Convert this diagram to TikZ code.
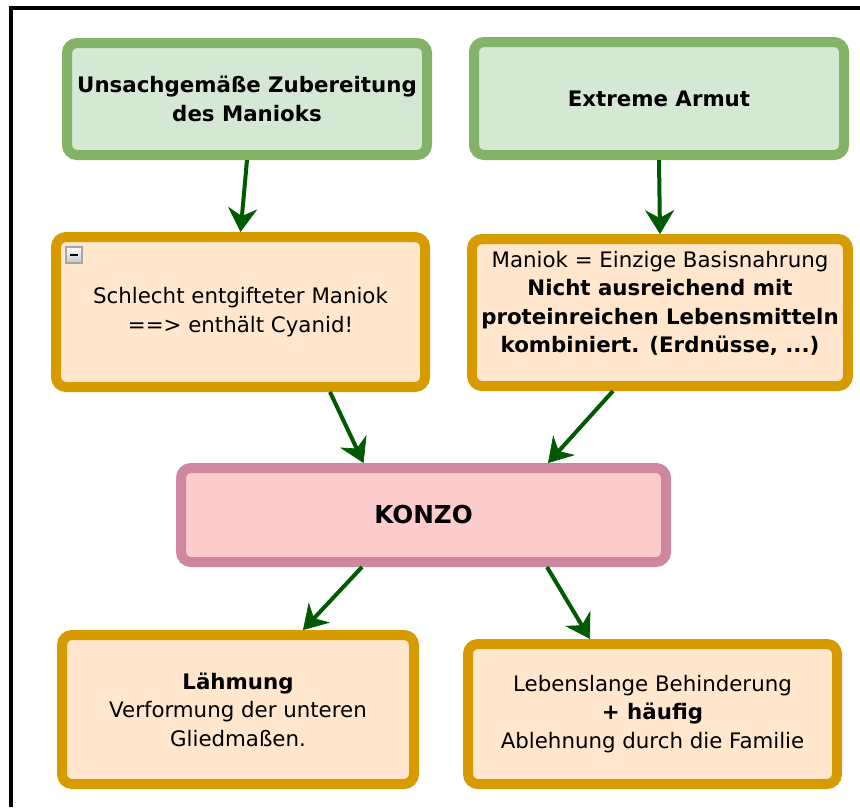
\documentclass[tikz,border=0pt]{standalone}
\usepackage{fontspec}
\setmainfont{DejaVu Sans}
\usetikzlibrary{calc,arrows.meta}
\definecolor{causefill}{HTML}{D5E8D4}
\definecolor{causeline}{HTML}{82B366}
\definecolor{stagefill}{HTML}{FFE6CC}
\definecolor{stageline}{HTML}{D79B00}
\definecolor{konzofill}{HTML}{FCCBCB}
\definecolor{konzoline}{HTML}{CF87A0}
\definecolor{leadgreen}{HTML}{005A00}
\newcommand{\boxfont}{\fontsize{16}{21.4}\selectfont}
\tikzset{
	box/.style={rectangle, rounded corners=7.5pt, line width=7.5pt, align=center, inner sep=0pt, font=\boxfont},
	cause/.style={box, draw=causeline, fill=causefill, font=\boxfont\bfseries},
	stage/.style={box, draw=stageline, fill=stagefill},
	disease/.style={box, draw=konzoline, fill=konzofill, font=\fontsize{18.5}{22}\selectfont\bfseries},
	leads/.style={draw=leadgreen, line width=3pt, -{Stealth[length=18pt,width=22pt,inset=6pt,line width=0.5pt]}}
}

\begin{document}
\begin{tikzpicture}[x=0.75pt,y=-0.75pt]
	\useasboundingbox (0,0) rectangle (860,807);
	\draw[line width=3pt] (11,807) -- (11,8) -- (860,8);

	\node[cause, minimum width=270pt, minimum height=84pt] (prep) at (247,99) {Unsachgemäße Zubereitung\\des Manioks};
	\node[cause, minimum width=277.5pt, minimum height=84.75pt] (armut) at (659,98.5) {Extreme Armut};
	\node[stage, minimum width=276.75pt, minimum height=112.5pt] (cyanid) at (240.5,312) {Schlecht entgifteter Maniok\\==> enthält Cyanid!};
	\node[stage, minimum width=282pt, minimum height=110.25pt, text depth=16pt] (basis) at (660,312.5) {Maniok = Einzige Basisnahrung\\\textbf{Nicht ausreichend mit}\\\textbf{proteinreichen Lebensmitteln}\\\textbf{kombiniert. (Erdnüsse, ...)}};
	\node[disease, minimum width=363.75pt, minimum height=70.5pt] (konzo) at (423.5,515) {KONZO};
	\node[stage, minimum width=264pt, minimum height=111.75pt] (laehmung) at (238,709.5) {\textbf{Lähmung}\\Verformung der unteren\\Gliedmaßen.};
	\node[stage, minimum width=276.75pt, minimum height=105pt] (familie) at (652.5,714) {Lebenslange Behinderung\\\textbf{+ häufig}\\Ablehnung durch die Familie};

	\draw[gray!70, line width=0.8pt, top color=white, bottom color=gray!45] ($(cyanid.north west)+(15,15)$) rectangle ++(16,16);
	\draw[line width=1.5pt] ($(cyanid.north west)+(19,23)$) -- ++(8,0);

	\draw[leads] (prep.south) -- (cyanid.north);
	\draw[leads] (armut.south) -- (basis.north);
	\draw[leads] ($(cyanid.south)+(89.5,0)$) -- ($(konzo.north)+(-60,0)$);
	\draw[leads] ($(basis.south)+(-47,0)$) -- ($(konzo.north)+(124.5,0)$);
	\draw[leads] ($(konzo.south)+(-61.5,0)$) -- ($(laehmung.north)+(65,0)$);
	\draw[leads] ($(konzo.south)+(123.5,0)$) -- ($(familie.north)+(-62.5,0)$);
\end{tikzpicture}
\end{document}
